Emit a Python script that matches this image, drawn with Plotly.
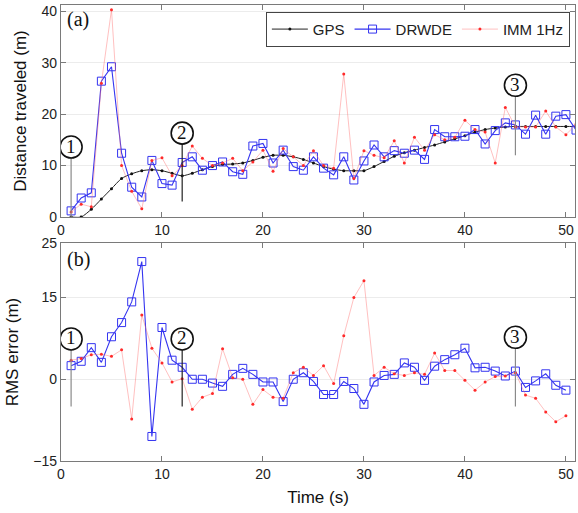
import plotly.graph_objects as go

# ---------------- data ----------------
t = list(range(1, 51))
t_ext = list(range(1, 52))

gps_dist = [0, 0, 1.5, 3.5, 5.5, 7.5, 8.4, 9.0, 9.2, 9.0, 8.5, 8.0, 8.5, 9.2, 9.8,
            10.2, 10.3, 10.5, 11.0, 11.6, 12.0, 12.0, 11.7, 11.2, 10.5, 9.8, 9.3,
            9.0, 9.0, 9.0, 9.8, 10.8, 11.8, 12.5, 13.0, 13.5, 14.0, 14.6, 15.2,
            15.8, 16.5, 17.0, 17.3, 17.5, 17.6, 17.6, 17.6, 17.6, 17.6, 17.6, 17.6]

drwde_dist = [1.2, 3.7, 4.7, 26.4, 29.2, 12.4, 5.8, 3.9, 11.0, 6.5, 6.2, 10.6, 11.7,
              9.1, 10.0, 10.7, 8.8, 8.3, 13.8, 14.3, 10.5, 13.0, 9.8, 9.1, 11.7, 9.5,
              8.2, 11.7, 7.2, 10.9, 14.0, 11.7, 12.9, 12.4, 13.0, 11.2, 17.0, 15.6,
              15.6, 15.7, 17.0, 14.2, 16.8, 18.3, 17.9, 16.1, 19.8, 16.1, 19.6, 19.9,
              16.9]

imm_dist = [1.0, 2.5, 2.0, 26.0, 40.3, 10.0, 5.0, 1.6, 11.0, 11.5, 8.0, 10.0, 13.8,
            11.4, 10.0, 10.5, 11.4, 9.0, 10.7, 13.0, 8.9, 13.3, 11.7, 10.0, 12.9,
            10.0, 9.5, 27.8, 7.5, 12.9, 12.0, 11.5, 14.8, 10.5, 15.5, 13.0, 16.0,
            15.0, 15.5, 18.8, 17.0, 16.5, 10.5, 21.3, 17.5, 17.5, 17.5, 20.6, 17.5,
            16.0, 18.0]

drwde_err = [2.5, 3.3, 5.8, 3.1, 7.8, 10.4, 14.2, 21.6, -10.5, 9.5, 3.5, 2.2, 0.0,
             0.0, -0.7, -1.3, 0.9, 2.0, 0.9, -0.5, -0.5, -4.1, 0.0, 1.2, -0.4, -2.8,
             -2.8, -0.4, -1.7, -4.6, -0.5, 0.7, 0.9, 3.0, 2.2, -0.2, 2.4, 3.6, 4.5,
             5.7, 2.1, 2.2, 1.5, 0.6, 1.5, -1.5, -0.3, 1.0, -1.1, -2.0]

imm_err = [3.5, 3.8, 4.5, 4.6, 4.2, 5.4, -7.3, 11.8, 5.7, 3.0, -0.5, 0.1, -5.5, -3.3,
           -2.6, 5.6, 0.3, 0.0, -4.6, -1.9, -3.3, -3.5, 1.2, 2.2, 0.7, 2.5, -0.8,
           8.0, 15.0, 18.1, 0.7, 2.2, 1.0, 0.7, 1.2, 0.9, 4.8, 1.6, 1.6, -0.2, -2.0,
           -0.5, 0.5, 0.6, 1.2, -2.9, -3.5, -6.0, -7.8, -6.7]

event_times = [1, 12, 45]
event_labels = ["1", "2", "3"]
x_ticks = [0, 10, 20, 30, 40, 50]
top_yticks = [0, 10, 20, 30, 40]
bot_yticks = [-15, 0, 15, 25]

# ---------------- style ----------------
BLUE = "#3434f0"
RED = "#ff2a2a"
RED_LINE = "rgba(255,110,110,0.55)"
AX = "#7a7a7a"
FONT = "Liberation Sans"
SERIF = "Liberation Serif"

fig = go.Figure()

fig.add_trace(go.Scatter(x=t_ext, y=gps_dist, name="GPS", mode="lines+markers",
                         line=dict(color="#222222", width=1, shape="spline", smoothing=0.6),
                         marker=dict(color="#111111", size=3),
                         xaxis="x", yaxis="y"))
fig.add_trace(go.Scatter(x=t_ext, y=drwde_dist, name="DRWDE", mode="lines+markers",
                         line=dict(color=BLUE, width=1.1),
                         marker=dict(symbol="square-open", color=BLUE, size=8, line=dict(width=1)),
                         xaxis="x", yaxis="y"))
fig.add_trace(go.Scatter(x=t_ext, y=imm_dist, name="IMM 1Hz", mode="lines+markers",
                         line=dict(color=RED_LINE, width=0.8),
                         marker=dict(color=RED, size=3),
                         xaxis="x", yaxis="y"))

fig.add_trace(go.Scatter(x=t, y=drwde_err, name="DRWDE", mode="lines+markers",
                         line=dict(color=BLUE, width=1.1),
                         marker=dict(symbol="square-open", color=BLUE, size=8, line=dict(width=1)),
                         showlegend=False, xaxis="x2", yaxis="y2"))
fig.add_trace(go.Scatter(x=t, y=imm_err, name="IMM 1Hz", mode="lines+markers",
                         line=dict(color=RED_LINE, width=0.8),
                         marker=dict(color=RED, size=3),
                         showlegend=False, xaxis="x2", yaxis="y2"))

# event markers (circled numbers with vertical lines)
top_circle_y = [13.6, 16.3, 25.6]
top_line = [(11.5, 0), (14.3, 3.0), (23.5, 12.0)]
bot_circle_y = [7.4, 7.4, 7.7]
bot_line = [(5.4, -5.0), (5.4, -5.0), (5.7, -5.0)]
line_cols = ["#8a8a8a", "#222222", "#8a8a8a"]
R = 11
for i, te in enumerate(event_times):
    for xr, yr, cy, ln in (("x", "y", top_circle_y[i], top_line[i]),
                           ("x2", "y2", bot_circle_y[i], bot_line[i])):
        fig.add_shape(type="line", xref=xr, yref=yr, x0=te, x1=te, y0=ln[0], y1=ln[1],
                      line=dict(color=line_cols[i], width=1.2))
        fig.add_shape(type="circle", xref=xr, yref=yr, xsizemode="pixel", ysizemode="pixel",
                      xanchor=te, yanchor=cy, x0=-R, x1=R, y0=-R, y1=R,
                      line=dict(color="#111", width=1.6), fillcolor="rgba(255,255,255,0)")
        fig.add_annotation(x=te, y=cy, xref=xr, yref=yr, text=event_labels[i],
                           showarrow=False, yshift=1,
                           font=dict(family=SERIF, size=19, color="#111"))

fig.add_annotation(x=0.008, y=0.998, xref="paper", yref="paper", text="(a)", showarrow=False,
                   xanchor="left", yanchor="top",
                   font=dict(family=SERIF, size=20, color="#111"))
fig.add_annotation(x=0.008, y=0.472, xref="paper", yref="paper", text="(b)", showarrow=False,
                   xanchor="left", yanchor="top",
                   font=dict(family=SERIF, size=20, color="#111"))

axis_common = dict(showline=True, linecolor=AX, linewidth=1.3, mirror="ticks",
                   ticks="inside", ticklen=5, tickcolor=AX, zeroline=False, automargin=False,
                   tickfont=dict(family=FONT, size=14, color="#222"))

fig.update_layout(
    width=578, height=513,
    margin=dict(l=61, r=3, t=5, b=52),
    paper_bgcolor="white", plot_bgcolor="white",
    font=dict(family=FONT, color="#222"),
    showlegend=True,
    legend=dict(orientation="h", x=0.99, y=0.985, xanchor="right", yanchor="top",
                bgcolor="white", bordercolor="#444", borderwidth=1,
                font=dict(family=FONT, size=15, color="#222"),
                itemwidth=36, tracegroupgap=0),
    xaxis=dict(domain=[0, 1], anchor="y", range=[0, 50.9], tickvals=x_ticks,
               showgrid=False, **axis_common),
    yaxis=dict(domain=[0.535, 1], anchor="x", range=[0, 41.2], tickvals=top_yticks,
               showgrid=True, gridcolor="#ececec", gridwidth=1,
               title=dict(text="Distance traveled (m)", font=dict(family=FONT, size=17, color="#111"),
                          standoff=10),
               **axis_common),
    xaxis2=dict(domain=[0, 1], anchor="y2", range=[0, 50.9], tickvals=x_ticks,
                showgrid=False,
                title=dict(text="Time (s)", font=dict(family=FONT, size=17, color="#111"), standoff=10),
                **axis_common),
    yaxis2=dict(domain=[0, 0.478], anchor="x2", range=[-15, 25], tickvals=bot_yticks,
                showgrid=True, gridcolor="#ececec", gridwidth=1,
                title=dict(text="RMS error (m)", font=dict(family=FONT, size=17, color="#111"),
                           standoff=10),
                **axis_common),
)

fig.write_html("out.html", config={"displayModeBar": False},
               post_script="document.body.style.margin='0px';document.body.style.padding='0px';")
